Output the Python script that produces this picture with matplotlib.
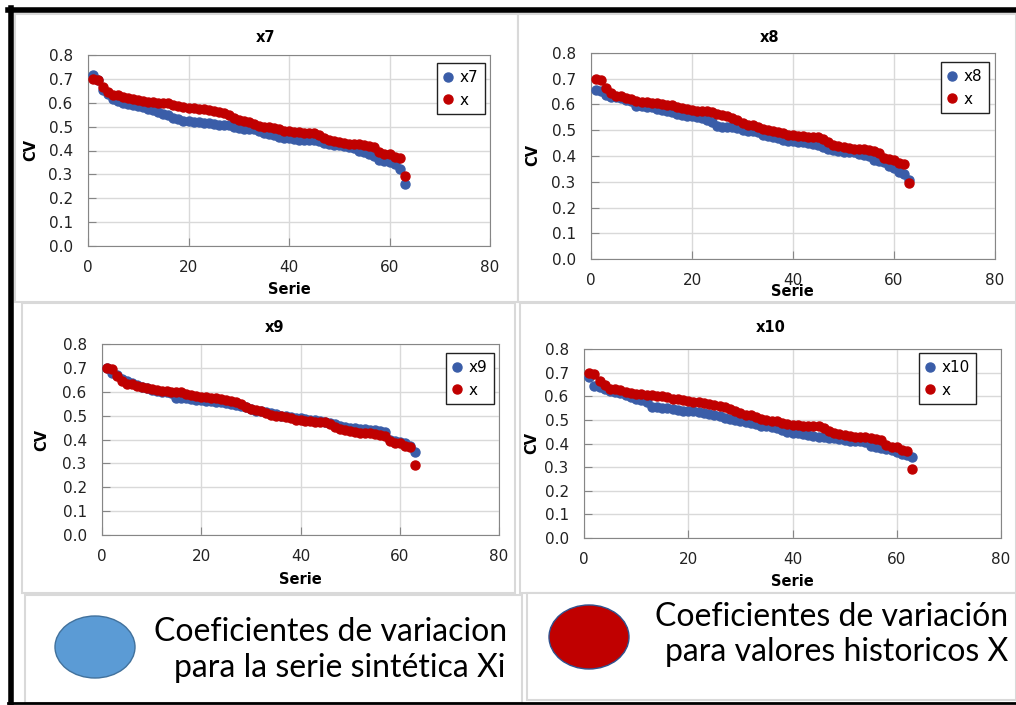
import numpy as np
import matplotlib.pyplot as plt
from matplotlib.patches import Rectangle, Ellipse
from matplotlib.lines import Line2D

# serie index (1..63)
serie = np.arange(1, 64)

# historical CV (red, same in all four panels)
cv_x = [0.700, 0.695, 0.665, 0.646, 0.632, 0.632, 0.625, 0.620, 0.615, 0.610,
        0.608, 0.604, 0.604, 0.601, 0.600, 0.597, 0.590, 0.587, 0.583, 0.580,
        0.576, 0.575, 0.573, 0.569, 0.565, 0.560, 0.555, 0.548, 0.538, 0.527,
        0.522, 0.520, 0.513, 0.503, 0.500, 0.497, 0.495, 0.488, 0.483, 0.480,
        0.478, 0.476, 0.474, 0.474, 0.473, 0.465, 0.453, 0.443, 0.439, 0.435,
        0.430, 0.427, 0.427, 0.427, 0.424, 0.420, 0.413, 0.394, 0.387, 0.385,
        0.373, 0.367, 0.294]

cv_x7 = [0.716, 0.695, 0.653, 0.636, 0.615, 0.607, 0.597, 0.594, 0.590, 0.586,
         0.583, 0.575, 0.569, 0.561, 0.552, 0.547, 0.538, 0.530, 0.524, 0.522,
         0.520, 0.519, 0.517, 0.516, 0.510, 0.506, 0.506, 0.505, 0.500, 0.495,
         0.492, 0.491, 0.488, 0.480, 0.474, 0.469, 0.463, 0.455, 0.453, 0.452,
         0.449, 0.446, 0.445, 0.443, 0.442, 0.438, 0.432, 0.427, 0.425, 0.422,
         0.418, 0.415, 0.410, 0.396, 0.392, 0.385, 0.376, 0.362, 0.354, 0.350,
         0.343, 0.324, 0.259]

cv_x8 = [0.658, 0.651, 0.638, 0.629, 0.629, 0.625, 0.619, 0.612, 0.595, 0.593,
         0.592, 0.589, 0.584, 0.577, 0.576, 0.570, 0.564, 0.560, 0.557, 0.554,
         0.551, 0.548, 0.541, 0.531, 0.518, 0.511, 0.511, 0.511, 0.509, 0.502,
         0.498, 0.496, 0.492, 0.483, 0.476, 0.472, 0.469, 0.463, 0.460, 0.458,
         0.456, 0.453, 0.450, 0.448, 0.444, 0.434, 0.428, 0.422, 0.418, 0.417,
         0.417, 0.414, 0.406, 0.403, 0.399, 0.383, 0.379, 0.375, 0.362, 0.353,
         0.337, 0.331, 0.308]

cv_x9 = [0.700, 0.680, 0.670, 0.655, 0.645, 0.635, 0.627, 0.620, 0.614, 0.607,
         0.602, 0.600, 0.598, 0.596, 0.575, 0.573, 0.572, 0.570, 0.567, 0.564,
         0.562, 0.560, 0.558, 0.557, 0.553, 0.548, 0.544, 0.540, 0.535, 0.527,
         0.521, 0.518, 0.515, 0.512, 0.506, 0.500, 0.497, 0.494, 0.490, 0.488,
         0.486, 0.483, 0.480, 0.477, 0.474, 0.470, 0.464, 0.458, 0.452, 0.448,
         0.447, 0.445, 0.443, 0.440, 0.438, 0.436, 0.432, 0.400, 0.393, 0.390,
         0.385, 0.373, 0.346]

cv_x10 = [0.680, 0.642, 0.639, 0.630, 0.623, 0.619, 0.614, 0.606, 0.597, 0.590,
          0.583, 0.574, 0.554, 0.554, 0.551, 0.549, 0.546, 0.543, 0.539, 0.536,
          0.536, 0.535, 0.529, 0.525, 0.520, 0.515, 0.508, 0.504, 0.501, 0.494,
          0.489, 0.487, 0.482, 0.475, 0.472, 0.470, 0.464, 0.458, 0.447, 0.444,
          0.443, 0.439, 0.434, 0.432, 0.429, 0.426, 0.425, 0.423, 0.419, 0.415,
          0.410, 0.409, 0.409, 0.405, 0.391, 0.385, 0.381, 0.375, 0.371, 0.362,
          0.357, 0.351, 0.341]

panel_names = ['x7', 'x8', 'x9', 'x10']
panel_series = [cv_x7, cv_x8, cv_x9, cv_x10]

W, H = 1016, 705
BLUE = '#3A5DA8'
RED = '#C00000'

fig = plt.figure(figsize=(W / 100, H / 100), dpi=100)


def fx(x):
    return x / W


def fy(y):
    return 1 - y / H


def add_box(x0, y0, x1, y1, ec='#D9D9D9', lw=1.5):
    fig.patches.append(Rectangle((fx(x0), fy(y1)), (x1 - x0) / W, (y1 - y0) / H,
                                 transform=fig.transFigure, fc='white', ec=ec, lw=lw, zorder=-5))


# chart frames (pixels: x0, y0, x1, y1)
add_box(15, 14, 518, 302)
add_box(518, 14, 1016, 302)
add_box(22, 303, 515, 593)
add_box(520, 303, 1016, 593)
add_box(25, 595, 522, 703)
add_box(527, 593, 1016, 700)

# panel layout in pixels: axes box, title pos, xlabel pos, ylabel pos, legend top-left
layout = [
    dict(ax=(88, 55, 490, 246), title=(266, 38), xl=(289, 290), yl=(31, 150), leg=(437, 63)),
    dict(ax=(591, 53, 995, 259), title=(770, 37), xl=(792, 292), yl=(533, 155), leg=(941, 62)),
    dict(ax=(102, 344, 499, 535), title=(275, 328), xl=(300, 579), yl=(42, 440), leg=(446, 353)),
    dict(ax=(584, 349, 1001, 538), title=(771, 328), xl=(792, 582), yl=(532, 443), leg=(919, 353)),
]

for name, vals, lay in zip(panel_names, panel_series, layout):
    x0, y0, x1, y1 = lay['ax']
    ax = fig.add_axes([fx(x0), fy(y1), (x1 - x0) / W, (y1 - y0) / H])
    ax.patch.set_alpha(0)
    ax.plot(serie, vals, 'o', color=BLUE, ms=6.5, label=name, zorder=3)
    ax.plot(serie, cv_x, 'o', color=RED, ms=6.5, label='x', zorder=4)
    ax.set_xlim(0, 80)
    ax.set_ylim(0, 0.8)
    ax.set_xticks([0, 20, 40, 60, 80])
    ax.set_yticks(np.arange(0, 0.81, 0.1))
    ax.yaxis.set_major_formatter(plt.FormatStrFormatter('%.1f'))
    ax.grid(True, color='#D9D9D9', lw=1, zorder=0)
    ax.set_axisbelow(True)
    for s in ax.spines.values():
        s.set_color('#868686')
    ax.tick_params(direction='in', length=6, color='#868686', labelsize=11,
                   labelcolor='#222222')
    ax.tick_params(axis='y', pad=11)
    ax.tick_params(axis='x', pad=10)
    lx, ly = lay['leg']
    ax.legend(loc='upper left', bbox_to_anchor=(fx(lx), fy(ly)), bbox_transform=fig.transFigure,
              fontsize=11, frameon=True, fancybox=False, edgecolor='#222222',
              handlelength=0.6, handletextpad=0.4, labelspacing=0.5, borderpad=0.45,
              borderaxespad=0, framealpha=1)
    fig.text(fx(lay['title'][0]), fy(lay['title'][1]), name, ha='center', va='center',
             fontsize=10.5, fontweight='bold')
    fig.text(fx(lay['xl'][0]), fy(lay['xl'][1]), 'Serie', ha='center', va='center',
             fontsize=10.5, fontweight='bold')
    fig.text(fx(lay['yl'][0]), fy(lay['yl'][1]), 'CV', ha='center', va='center',
             fontsize=10.5, fontweight='bold', rotation=90)

# bottom legend boxes
fig.patches.append(Ellipse((fx(95), fy(647)), 80 / W, 62 / H, transform=fig.transFigure,
                           fc='#5B9BD5', ec='#41719C', lw=1, zorder=2))
fig.patches.append(Ellipse((fx(589), fy(637)), 80 / W, 64 / H, transform=fig.transFigure,
                           fc=RED, ec='#2F528F', lw=1, zorder=2))
big_font = ['Lato', 'DejaVu Sans']
fig.text(fx(507), fy(632), 'Coeficientes de variacion', ha='right', va='center',
         fontsize=23, family=big_font)
fig.text(fx(505), fy(668), 'para la serie sintética Xi', ha='right', va='center',
         fontsize=23, family=big_font)
fig.text(fx(1008), fy(617), 'Coeficientes de variación', ha='right', va='center',
         fontsize=23, family=big_font)
fig.text(fx(1008), fy(652), 'para valores historicos X', ha='right', va='center',
         fontsize=23, family=big_font)

# thick black outer frame
fig.lines.append(Line2D([fx(8), fx(1016)], [fy(10), fy(10)], transform=fig.transFigure,
                        color='black', lw=4, zorder=5))
fig.lines.append(Line2D([fx(11), fx(11)], [fy(8), fy(705)], transform=fig.transFigure,
                        color='black', lw=4, zorder=5))
fig.lines.append(Line2D([fx(8), fx(1016)], [fy(703), fy(703)], transform=fig.transFigure,
                        color='black', lw=2, zorder=5))

fig.savefig('out.png', dpi=100)
